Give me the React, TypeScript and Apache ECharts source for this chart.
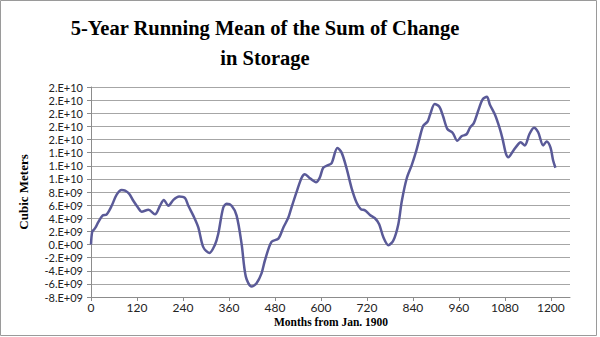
import React, { useEffect, useRef } from "react";
import * as echarts from "echarts";

const months = [0, 3, 8, 12, 19, 30, 41, 54, 67, 80, 89, 100, 110, 123, 132, 150, 167, 180, 190, 202, 215, 230, 245, 254, 267, 280, 293, 309, 323, 332, 345, 354, 367, 380, 393, 404, 419, 432, 445, 454, 471, 489, 502, 515, 523, 537, 550, 558, 571, 578, 587, 597, 606, 619, 628, 643, 654, 667, 680, 693, 704, 715, 728, 741, 752, 763, 776, 789, 802, 811, 824, 837, 848, 857, 867, 878, 885, 897, 909, 919, 930, 944, 956, 967, 980, 989, 999, 1010, 1022, 1033, 1041, 1054, 1066, 1074, 1083, 1089, 1102, 1115, 1121, 1132, 1144, 1156, 1167, 1180, 1189, 1199, 1206, 1212];
const valuesE9 = [0, 1.9, 2.3, 2.6, 3.4, 4.4, 4.6, 5.9, 7.6, 8.3, 8.2, 7.7, 6.7, 5.6, 5.0, 5.3, 4.6, 5.9, 6.8, 5.9, 6.8, 7.3, 7.1, 5.9, 4.4, 2.6, -0.4, -1.3, -0.1, 1.6, 5.6, 6.2, 5.9, 4.4, 0.1, -4.9, -6.4, -5.9, -4.4, -2.4, 0.4, 0.9, 2.6, 4.1, 5.6, 8.1, 10.2, 10.7, 10.1, 9.8, 9.5, 10.2, 11.7, 12.1, 12.4, 14.7, 14.0, 11.6, 8.6, 6.4, 5.4, 5.2, 4.5, 4.0, 3.1, 1.1, -0.1, 0.6, 3.1, 6.6, 10.1, 12.1, 14.1, 16.1, 18.1, 18.7, 19.8, 21.4, 21.0, 19.5, 17.6, 17.0, 15.8, 16.5, 16.8, 17.8, 18.5, 20.3, 22.1, 22.5, 21.3, 19.8, 17.8, 16.1, 13.8, 13.3, 14.3, 15.3, 15.6, 15.1, 16.8, 17.8, 17.1, 15.1, 15.7, 14.8, 12.8, 11.7];

const titleText = "5-Year Running Mean of the Sum of Change\nin Storage";
const xAxisTitle = "Months from Jan. 1900";
const yAxisTitle = "Cubic Meters";

function fmtExp(v: number): string {
  if (v === 0) return "0.E+00";
  const sign = v < 0 ? "-" : "";
  const a = Math.abs(v);
  let e = Math.floor(Math.log10(a) + 1e-9);
  let m = Math.round(a / Math.pow(10, e));
  if (m >= 10) { m = 1; e += 1; }
  return `${sign}${m}.E+${e < 10 ? "0" + e : e}`;
}

export default function App() {
  const ref = useRef<HTMLDivElement>(null);
  useEffect(() => {
    if (!ref.current) return;
    const chart = echarts.init(ref.current, null, { renderer: "svg" });
    const data = months.map((m, i) => [m, valuesE9[i] * 1e9]);
    chart.setOption({
      animation: false,
      backgroundColor: "#ffffff",
      title: {
        text: titleText,
        left: 260,
        top: 8,
        textAlign: "center",
        textStyle: {
          fontFamily: "Liberation Serif",
          fontWeight: "bold",
          fontSize: 20.5,
          lineHeight: 30,
          color: "#000",
        },
      },
      graphic: [
        {
          type: "rect",
          shape: { x: 0.5, y: 0.5, width: 596, height: 335 },
          style: { fill: "none", stroke: "#9a9a9a", lineWidth: 1 },
          silent: true,
        },
        {
          type: "text",
          x: 331,
          y: 322,
          style: {
            text: xAxisTitle,
            font: "bold 11.5px 'Liberation Serif'",
            fill: "#000",
            align: "center",
            verticalAlign: "middle",
          },
          z: 10,
        },
      ],
      grid: { left: 91, right: 30, top: 87, bottom: 40, containLabel: false },
      xAxis: {
        type: "value",
        min: 0,
        max: 1250,
        interval: 120,
        axisLine: { show: true, onZero: false, lineStyle: { color: "#8c8c8c", width: 1 } },
        axisTick: { show: true, length: 4, lineStyle: { color: "#8c8c8c" } },
        splitLine: { show: false },
        axisLabel: {
          showMaxLabel: false,
          margin: 4,
          formatter: (v: number) => String(v),
          fontFamily: "Lato",
          fontSize: 12,
          lineHeight: 12,
          color: "#222",
        },
      },
      yAxis: {
        type: "value",
        min: -8e9,
        max: 2.4e10,
        interval: 2e9,
        name: yAxisTitle,
        nameLocation: "middle",
        nameGap: 61,
        nameRotate: 90,
        nameTextStyle: {
          fontFamily: "Liberation Serif",
          fontWeight: "bold",
          fontSize: 13,
          color: "#000",
        },
        axisLine: { show: true, lineStyle: { color: "#8c8c8c", width: 1 } },
        axisTick: { show: true, length: 4, lineStyle: { color: "#8c8c8c" } },
        splitLine: { show: true, lineStyle: { color: "#a6a6a6", width: 1 } },
        axisLabel: {
          formatter: (v: number) => fmtExp(v),
          margin: 8,
          fontFamily: "Lato",
          fontSize: 11,
          lineHeight: 11,
          color: "#222",
        },
      },
      series: [
        {
          type: "line",
          data,
          showSymbol: false,
          smooth: 0.3,
          lineStyle: { color: "#5a5a98", width: 2.5 },
        },
      ],
    });
    return () => chart.dispose();
  }, []);
  return (
    <div
      ref={ref}
      style={{ position: "fixed", left: 0, top: 0, width: 600, height: 337 }}
    />
  );
}
